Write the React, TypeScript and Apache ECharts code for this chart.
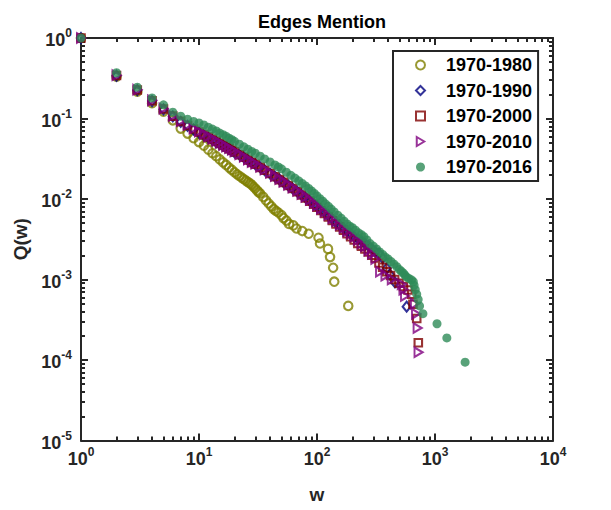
import React, { useEffect, useRef } from 'react';
import * as echarts from 'echarts';

// ---------------- data ----------------
const seriesNames = ['1970-1980', '1970-1990', '1970-2000', '1970-2010', '1970-2016'];

const w1980 = [1,2,3,4,5,6,7,8,9,10,11,12,13,14,15,16,17,18,19,20,21,22,23,24,25,26,27,28,29,30,31,32,33,35,37,39,41,43,45,47,50,52,55,58,63,67,75,85,103,106,124,129,137,140,184];
const q1980 = [1,0.33,0.215,0.155,0.122,0.095,0.075,0.065,0.057,0.051,0.046,0.041,0.037,0.034,0.031,0.0285,0.0265,0.0245,0.023,0.0215,0.0203,0.0193,0.0184,0.0176,0.0169,0.0162,0.0156,0.015,0.0142,0.0135,0.0128,0.0122,0.0117,0.0106,0.0096,0.0088,0.0081,0.0075,0.0071,0.0068,0.0063,0.0058,0.0054,0.0049,0.0047,0.0043,0.004,0.0037,0.0033,0.0028,0.0024,0.0019,0.0014,0.00094,0.00047];

const w1990 = [1,2,3,4,5,6,7,8,9,10,11,12,13,14,15,16,17,18,19,20,22,24,26,28,30,33,36,40,44,48,52,57,62,68,74,80,87,94,100,108,116,125,135,145,156,168,180,193,207,222,238,255,273,292,312,335,360,390,415,458,575];
const q1990 = [1,0.34,0.225,0.165,0.13,0.106,0.091,0.081,0.073,0.067,0.062,0.058,0.054,0.051,0.048,0.046,0.044,0.042,0.04,0.038,0.0355,0.033,0.0305,0.0285,0.027,0.0248,0.0228,0.0207,0.019,0.0175,0.0162,0.0148,0.0136,0.0124,0.0113,0.0104,0.0095,0.0087,0.0081,0.0074,0.0068,0.0062,0.0056,0.0051,0.0047,0.0043,0.004,0.0037,0.0034,0.0032,0.003,0.0028,0.0026,0.0024,0.0022,0.0021,0.00184,0.00138,0.00115,0.00092,0.00046];

const w2000 = [1,2,3,4,5,6,7,8,9,10,11,12,13,14,15,16,17,18,19,20,22,24,26,28,30,33,36,40,44,48,52,57,62,68,74,80,87,94,100,108,116,125,135,145,156,168,180,193,207,222,238,255,273,292,312,335,360,390,420,455,495,540,590,635,650,700,722];
const q2000 = [1,0.342,0.226,0.166,0.131,0.107,0.092,0.082,0.074,0.068,0.063,0.059,0.055,0.052,0.049,0.0465,0.0443,0.0423,0.0403,0.0385,0.0355,0.033,0.0305,0.0285,0.027,0.0247,0.0228,0.0207,0.0189,0.0174,0.0161,0.0147,0.0135,0.0123,0.0112,0.0103,0.0094,0.0086,0.0079,0.0072,0.0066,0.006,0.0054,0.0049,0.0045,0.0041,0.0037,0.0034,0.0031,0.0028,0.0026,0.0024,0.0022,0.002,0.00185,0.0016,0.00142,0.00125,0.00112,0.001,0.0009,0.00082,0.00074,0.000656,0.000492,0.000328,0.000164];

const w2010 = [1,2,3,4,5,6,7,8,9,10,11,12,13,14,15,16,17,18,19,20,22,24,26,28,30,33,36,40,44,48,52,57,62,68,74,80,87,94,100,108,116,125,135,145,156,168,180,193,207,222,238,255,273,292,312,342,380,430,522,540,557,676,690,712,725];
const q2010 = [1,0.345,0.228,0.168,0.133,0.108,0.093,0.083,0.075,0.069,0.064,0.06,0.056,0.053,0.05,0.047,0.045,0.043,0.041,0.039,0.036,0.0335,0.031,0.029,0.0275,0.0252,0.0233,0.0212,0.0193,0.0178,0.0164,0.0151,0.0139,0.0127,0.0116,0.0107,0.0098,0.009,0.0083,0.0076,0.007,0.0064,0.0058,0.0053,0.0048,0.0044,0.004,0.0037,0.0034,0.0031,0.0028,0.0026,0.0023,0.0021,0.0018,0.00125,0.00112,0.001,0.000875,0.00075,0.000625,0.0005,0.000375,0.00025,0.000125];

const w2016 = [1,2,3,4,5,6,7,8,9,10,11,12,13,14,15,16,17,18,19,20,22,24,26,28,30,33,36,40,44,47,50,55,60,65,70,75,80,85,90,95,100,106,112,118,125,132,140,150,160,170,180,190,200,212,225,238,250,265,281,300,320,340,360,380,400,425,450,475,500,520,540,556,573,600,632,655,665,680,700,720,740,790,1040,1260,1800];
const q2016 = [1,0.37,0.245,0.18,0.148,0.12,0.107,0.098,0.092,0.088,0.083,0.078,0.074,0.07,0.066,0.063,0.06,0.057,0.0545,0.052,0.048,0.0445,0.0415,0.039,0.037,0.034,0.0315,0.0288,0.0265,0.025,0.0237,0.0215,0.0197,0.0182,0.0168,0.0156,0.0145,0.0135,0.0126,0.0117,0.0109,0.0101,0.0094,0.0087,0.0081,0.0075,0.0069,0.0063,0.0058,0.0053,0.0049,0.0046,0.0044,0.0041,0.0038,0.0036,0.0034,0.0031,0.0028,0.0026,0.0024,0.0022,0.00205,0.0019,0.0018,0.00167,0.00155,0.00144,0.00133,0.00126,0.0012,0.00113,0.00108,0.00103,0.00099,0.00094,0.000846,0.00075,0.000658,0.000564,0.00047,0.000376,0.000282,0.000188,0.000094];

const xMajorTicks = [1, 10, 100, 1000, 10000];
const yMajorTicks = [0.00001, 0.0001, 0.001, 0.01, 0.1, 1];

// ---------------- styling ----------------
const FONT = "'Liberation Sans', Arial, Helvetica, sans-serif";
const AX = '#262626';
const colors = ['#808000', '#000080', '#800000', '#800080', '#2E8B57'];

function minorTicks(majors: number[]): number[] {
  const out: number[] = [];
  for (let i = 0; i < majors.length - 1; i++) {
    for (let m = 2; m <= 9; m++) out.push(+(majors[i] * m).toPrecision(6));
  }
  return out;
}
const xMinorTicks = minorTicks(xMajorTicks);
const yMinorTicks = minorTicks(yMajorTicks);

const zip = (w: number[], q: number[]) => w.map((v, i) => [v, q[i]]);

const labelRich = {
  b: { fontSize: 18, fontWeight: 'bold', fontFamily: FONT, color: AX, lineHeight: 22, verticalAlign: 'bottom' },
  s: { fontSize: 12, fontWeight: 'bold', fontFamily: FONT, color: AX, lineHeight: 13, verticalAlign: 'top' },
};
const expFormatter = (v: number) => `{b|10}{s|${Math.round(Math.log10(v))}}`;

// Axis layout exactly as in the configuration that was seen to draw its ticks
function axis(kind: 'x' | 'y', gridIndex: number, pos: string, ticks: number[], len: number, line: boolean, extra: any = {}) {
  const isX = kind === 'x';
  return {
    type: 'log',
    gridIndex,
    min: isX ? 1 : 0.00001,
    max: isX ? 10000 : 1,
    position: pos,
    axisLine: line ? { lineStyle: { color: AX, width: 2 } } : { show: false },
    axisTick: { show: true, inside: true, length: len, customValues: ticks, lineStyle: { color: AX, width: 2 } },
    axisLabel: { show: false },
    splitLine: { show: false },
    ...extra,
  };
}

const symbols = ['circle', 'diamond', 'rect', 'path://M0,0L10,6L0,12Z', 'circle'];
const sizes: any[] = [8.5, [8, 10], 7.5, [8, 9.5], 9];

const qData = [zip(w1980, q1980), zip(w1990, q1990), zip(w2000, q2000), zip(w2010, q2010), zip(w2016, q2016)];

const gridBox = { left: 81, right: 58, top: 38, bottom: 69.5, containLabel: false };

const option: any = {
  animation: false,
  title: {
    text: 'Edges Mention',
    left: 317,
    textAlign: 'center',
    top: 8,
    textStyle: { fontFamily: FONT, fontSize: 18, fontWeight: 'bold', color: '#000' },
  },
  grid: [gridBox, { ...gridBox }],
  xAxis: [
    axis('x', 0, 'bottom', xMajorTicks, 7, true, {
      axisLabel: { show: true, customValues: xMajorTicks, formatter: expFormatter, rich: labelRich, margin: 5 },
      name: 'w',
      nameLocation: 'middle',
      nameGap: 44,
      nameTextStyle: { fontFamily: FONT, fontSize: 19, fontWeight: 'bold', color: AX },
    }),
    axis('x', 0, 'top', xMajorTicks, 7, true),
    axis('x', 1, 'bottom', xMinorTicks, 4, false),
    axis('x', 1, 'top', xMinorTicks, 4, false),
  ],
  yAxis: [
    axis('y', 0, 'left', yMajorTicks, 7, true, {
      axisLabel: { show: true, customValues: yMajorTicks, formatter: expFormatter, rich: labelRich, margin: 9 },
      name: 'Q(w)',
      nameLocation: 'middle',
      nameGap: 43,
      nameRotate: 90,
      nameTextStyle: { fontFamily: FONT, fontSize: 19, fontWeight: 'bold', color: AX },
    }),
    axis('y', 0, 'right', yMajorTicks, 7, true),
    axis('y', 1, 'left', yMinorTicks, 4, false),
    axis('y', 1, 'right', yMinorTicks, 4, false),
  ],
  legend: {
    orient: 'vertical',
    left: 393,
    top: 51,
    data: seriesNames,
    backgroundColor: '#ffffff',
    borderColor: AX,
    borderWidth: 2,
    padding: [5, 6, 5, 22],
    itemWidth: 9,
    itemHeight: 9,
    itemGap: 7.5,
    textStyle: { fontFamily: FONT, fontSize: 18, fontWeight: 'bold', color: '#000', padding: [0, 0, 0, 16] },
  },
  series: seriesNames.map((name, i) => ({
    name,
    type: 'scatter',
    xAxisIndex: 0,
    yAxisIndex: 0,
    symbol: symbols[i],
    symbolSize: sizes[i],
    itemStyle:
      i === 4
        ? { color: colors[i] }
        : { color: 'rgba(255,255,255,0)', borderColor: colors[i], borderWidth: 2.1 },
    data: qData[i],
  })),
};

export default function App() {
  const ref = useRef<HTMLDivElement>(null);
  useEffect(() => {
    const chart = echarts.init(ref.current as HTMLDivElement, null, { renderer: 'svg' });
    chart.setOption(option);
    return () => chart.dispose();
  }, []);
  return <div ref={ref} style={{ position: 'absolute', left: 0, top: 0, width: 611, height: 510 }} />;
}
